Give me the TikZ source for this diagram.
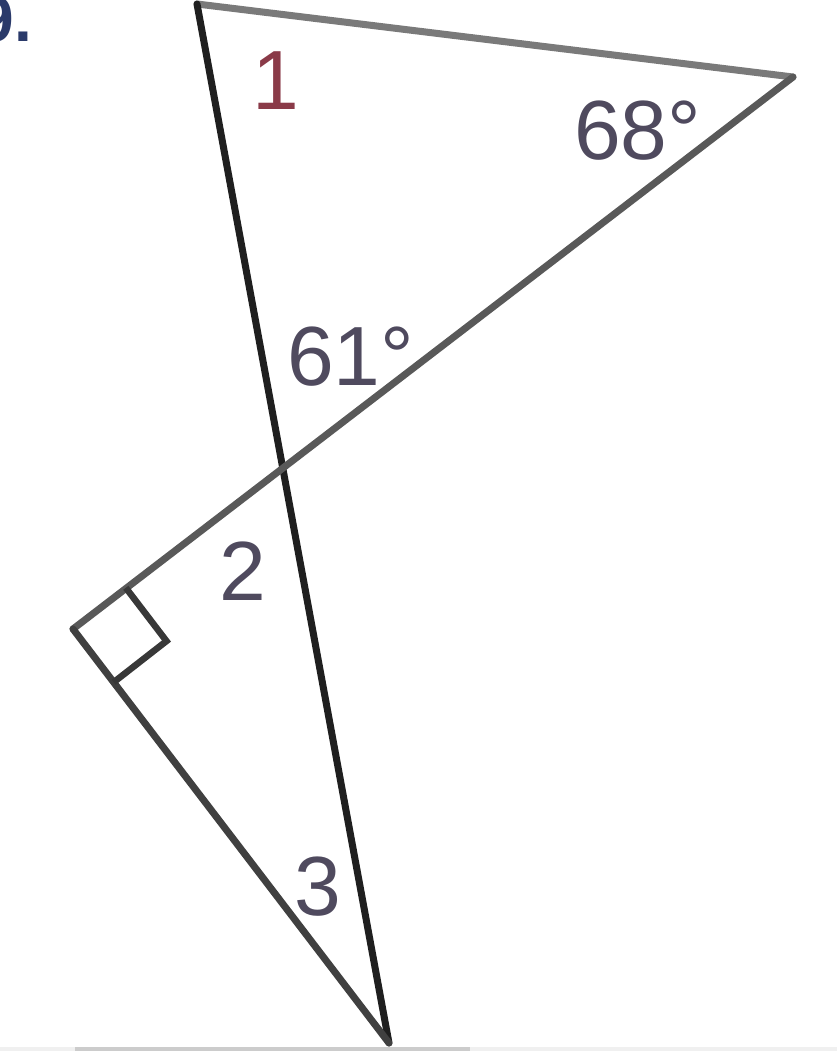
\documentclass[tikz,border=0pt]{standalone}
\usepackage{fontspec}
\setmainfont{Liberation Sans}
\usetikzlibrary{calc}
\begin{document}
\begin{tikzpicture}[x=1pt,y=-1pt,
  edge/.style={line width=7pt,line cap=round},
  lbl/.style={font=\fontsize{84}{90}\selectfont,inner sep=0pt,anchor=base}]
\definecolor{labelc}{HTML}{4F4A5E}
\definecolor{onec}{HTML}{8A3A48}
\definecolor{numq}{HTML}{2A3A6A}
\useasboundingbox (0,0) rectangle (837,1051);
% bottom strip
\fill[gray!12] (0,1047) rectangle (837,1051);
\fill[gray!40] (75,1047) rectangle (470,1051);
% vertices
\coordinate (A) at (197,4);
\coordinate (B) at (793,77);
\coordinate (X) at (282,466);
\coordinate (C) at (73,629);
\coordinate (D) at (389,1043);
% lines
\draw[edge,color=black!52] (A) -- (B);
\draw[edge,color=black!88] (A) -- (D);
\draw[edge,color=black!65] (B) -- (C);
\draw[edge,color=black!75] (C) -- (D);
% right angle mark
\coordinate (P) at ($(C)!67pt!(X)$);
\coordinate (Q) at ($(C)!67pt!(D)$);
\coordinate (R) at ($(P)+(Q)-(C)$);
\draw[line width=6.5pt,color=black!78,line join=miter] (P) -- (R) -- (Q);
% labels
\node[lbl,text=onec] (l1) at (276,110) {1};
\node[lbl,text=labelc,anchor=base west] (l68) at (574,160) {68°};
\node[lbl,text=labelc,anchor=base west] (l61) at (287,385) {61°};
\node[lbl,text=labelc] (l2) at (243,600) {2};
\node[lbl,text=labelc] (l3) at (318,915) {3};
\node[font=\fontsize{64}{70}\selectfont\bfseries,text=numq,inner sep=0pt,anchor=base east] (q) at (32,42) {9.};
\end{tikzpicture}
\end{document}
